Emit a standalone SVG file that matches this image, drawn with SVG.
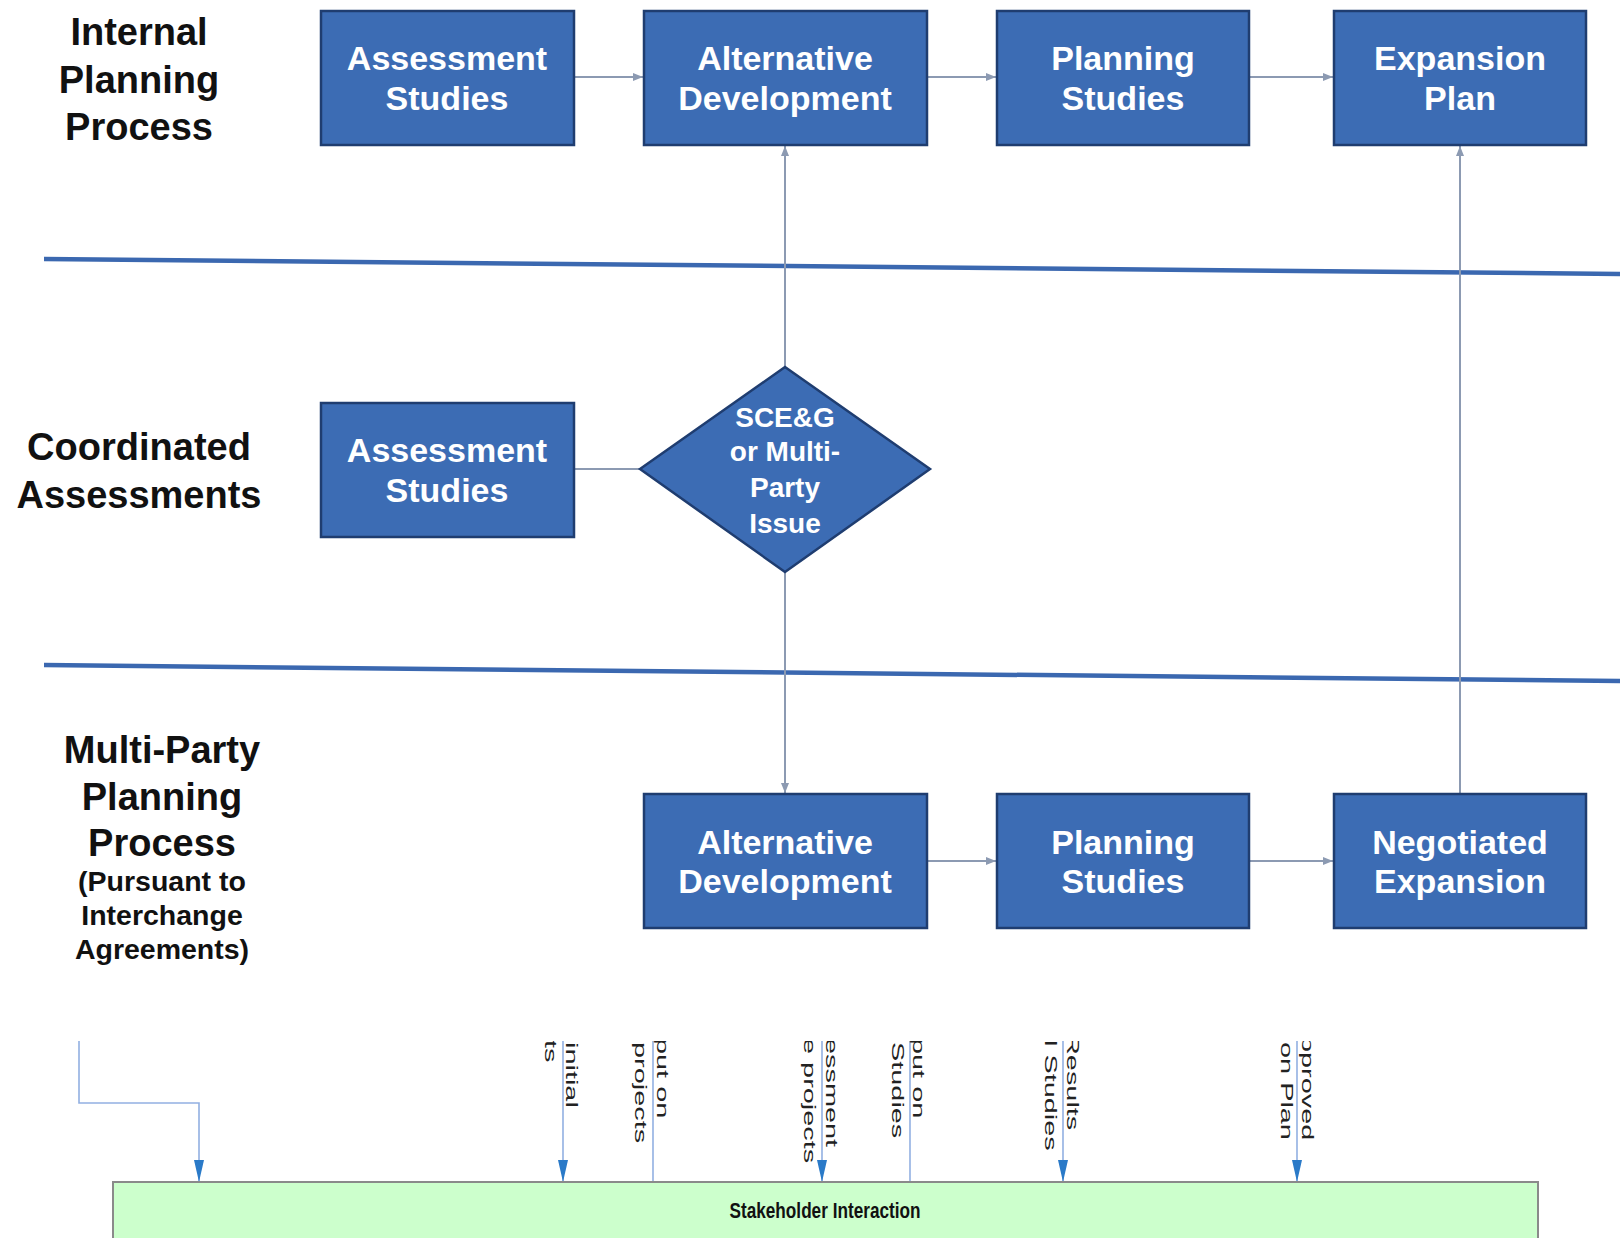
<svg xmlns="http://www.w3.org/2000/svg" width="1620" height="1238" viewBox="0 0 1620 1238">
<style>
.box{fill:#3C6CB4;stroke:#1F3D70;stroke-width:2.5}
.bt{font-family:"Liberation Sans",Arial,sans-serif;font-weight:bold;font-size:34px;fill:#FFFFFF;text-anchor:middle}
.dt{font-family:"Liberation Sans",Arial,sans-serif;font-weight:bold;font-size:28px;fill:#FFFFFF;text-anchor:middle}
.lab{font-family:"Liberation Sans",Arial,sans-serif;font-weight:bold;font-size:38px;fill:#111111;text-anchor:middle}
.lab2{font-family:"Liberation Sans",Arial,sans-serif;font-weight:bold;font-size:28.5px;fill:#111111;text-anchor:middle}
.sep{stroke:#3B68B0;stroke-width:4.5;fill:none}
.con{stroke:#8C9AB2;stroke-width:2;fill:none}
.bcon{stroke:#92B0E2;stroke-width:1.6;fill:none}
.rt{font-family:"Liberation Sans",Arial,sans-serif;font-size:17px;fill:#222222}
.sh{fill:#CCFFCC;stroke:#8A8A8A;stroke-width:2}
.sht{font-family:"Liberation Sans",Arial,sans-serif;font-weight:bold;font-size:22px;fill:#111111;text-anchor:middle}
</style>
<defs>
<marker id="ga" markerUnits="userSpaceOnUse" markerWidth="12" markerHeight="10" refX="10" refY="5" orient="auto">
<path d="M0,1 L10,5 L0,9 Z" fill="#8C9AB2"/>
</marker>
<marker id="ba" markerUnits="userSpaceOnUse" markerWidth="24" markerHeight="12" refX="22" refY="6" orient="auto">
<path d="M0,1 L22,6 L0,11 Z" fill="#2A7AC8"/>
</marker>
<clipPath id="bclip"><rect x="0" y="1041" width="1620" height="200"/></clipPath>
</defs>

<!-- lane labels -->
<g id="label-internal">
<text class="lab" x="139" y="45">Internal</text>
<text class="lab" x="139" y="93">Planning</text>
<text class="lab" x="139" y="140">Process</text>
</g>
<g id="label-coordinated">
<text class="lab" x="139" y="460">Coordinated</text>
<text class="lab" x="139" y="508">Assessments</text>
</g>
<g id="label-multiparty">
<text class="lab" x="162" y="763">Multi-Party</text>
<text class="lab" x="162" y="810">Planning</text>
<text class="lab" x="162" y="856">Process</text>
<text class="lab2" x="162" y="891">(Pursuant to</text>
<text class="lab2" x="162" y="925">Interchange</text>
<text class="lab2" x="162" y="959">Agreements)</text>
</g>

<!-- separators -->
<g id="separators">
<line class="sep" x1="44" y1="259" x2="1620" y2="274"/>
<line class="sep" x1="44" y1="665" x2="1620" y2="681"/>
</g>

<!-- connectors -->
<g id="connectors">
<line class="con" x1="574" y1="77" x2="643" y2="77" marker-end="url(#ga)"/>
<line class="con" x1="927" y1="77" x2="996" y2="77" marker-end="url(#ga)"/>
<line class="con" x1="1249" y1="77" x2="1333" y2="77" marker-end="url(#ga)"/>
<line class="con" x1="785" y1="367" x2="785" y2="146" marker-end="url(#ga)"/>
<line class="con" x1="1460" y1="794" x2="1460" y2="146" marker-end="url(#ga)"/>
<line class="con" x1="574" y1="469" x2="640" y2="469"/>
<line class="con" x1="785" y1="572" x2="785" y2="793" marker-end="url(#ga)"/>
<line class="con" x1="927" y1="861" x2="996" y2="861" marker-end="url(#ga)"/>
<line class="con" x1="1249" y1="861" x2="1333" y2="861" marker-end="url(#ga)"/>
<g clip-path="url(#bclip)">
<polyline class="bcon" points="79,1030 79,1103 199,1103 199,1182" marker-end="url(#ba)"/>
<line class="bcon" x1="563" y1="1030" x2="563" y2="1182" marker-end="url(#ba)"/>
<line class="bcon" x1="653" y1="1030" x2="653" y2="1182"/>
<line class="bcon" x1="822" y1="1030" x2="822" y2="1182" marker-end="url(#ba)"/>
<line class="bcon" x1="910" y1="1030" x2="910" y2="1182"/>
<line class="bcon" x1="1063" y1="1030" x2="1063" y2="1182" marker-end="url(#ba)"/>
<line class="bcon" x1="1297" y1="1030" x2="1297" y2="1182" marker-end="url(#ba)"/>
</g>
</g>

<!-- top row -->
<g id="n-assess-top">
<rect class="box" x="321" y="11" width="253" height="134"/>
<text class="bt" x="447" y="70">Assessment</text>
<text class="bt" x="447" y="110">Studies</text>
</g>
<g id="n-altdev-top">
<rect class="box" x="644" y="11" width="283" height="134"/>
<text class="bt" x="785" y="70">Alternative</text>
<text class="bt" x="785" y="110">Development</text>
</g>
<g id="n-planning-top">
<rect class="box" x="997" y="11" width="252" height="134"/>
<text class="bt" x="1123" y="70">Planning</text>
<text class="bt" x="1123" y="110">Studies</text>
</g>
<g id="n-expansion">
<rect class="box" x="1334" y="11" width="252" height="134"/>
<text class="bt" x="1460" y="70">Expansion</text>
<text class="bt" x="1460" y="110">Plan</text>
</g>

<!-- middle row -->
<g id="n-assess-mid">
<rect class="box" x="321" y="403" width="253" height="134"/>
<text class="bt" x="447" y="462">Assessment</text>
<text class="bt" x="447" y="502">Studies</text>
</g>
<g id="n-diamond">
<polygon class="box" points="785,367 930,469 785,572 640,469"/>
<text class="dt" x="785" y="427">SCE&amp;G</text>
<text class="dt" x="785" y="461">or Multi-</text>
<text class="dt" x="785" y="497">Party</text>
<text class="dt" x="785" y="533">Issue</text>
</g>

<!-- bottom row -->
<g id="n-altdev-bot">
<rect class="box" x="644" y="794" width="283" height="134"/>
<text class="bt" x="785" y="854">Alternative</text>
<text class="bt" x="785" y="893">Development</text>
</g>
<g id="n-planning-bot">
<rect class="box" x="997" y="794" width="252" height="134"/>
<text class="bt" x="1123" y="854">Planning</text>
<text class="bt" x="1123" y="893">Studies</text>
</g>
<g id="n-negotiated">
<rect class="box" x="1334" y="794" width="252" height="134"/>
<text class="bt" x="1460" y="854">Negotiated</text>
<text class="bt" x="1460" y="893">Expansion</text>
</g>

<!-- rotated connector labels -->
<g id="connector-labels" clip-path="url(#bclip)">
<text class="rt" transform="translate(566,1042) rotate(90) scale(1.7,1)">initial</text>
<text class="rt" transform="translate(545,1040) rotate(90) scale(1.7,1)">ts</text>
<text class="rt" transform="translate(657,1038) rotate(90) scale(1.7,1)">put on</text>
<text class="rt" transform="translate(635,1042) rotate(90) scale(1.7,1)">projects</text>
<text class="rt" transform="translate(826,1038) rotate(90) scale(1.7,1)">essment</text>
<text class="rt" transform="translate(804,1038) rotate(90) scale(1.7,1)">e projects</text>
<text class="rt" transform="translate(913,1038) rotate(90) scale(1.7,1)">put on</text>
<text class="rt" transform="translate(892,1042) rotate(90) scale(1.7,1)">Studies</text>
<text class="rt" transform="translate(1067,1034) rotate(90) scale(1.7,1)">Results</text>
<text class="rt" transform="translate(1045,1040) rotate(90) scale(1.7,1)">l Studies</text>
<text class="rt" transform="translate(1302,1036) rotate(90) scale(1.7,1)">pproved</text>
<text class="rt" transform="translate(1281,1042) rotate(90) scale(1.7,1)">on Plan</text>
</g>

<!-- stakeholder bar -->
<g id="n-stakeholder">
<rect class="sh" x="113" y="1182" width="1425" height="70"/>
<text class="sht" x="825" y="1218" textLength="191" lengthAdjust="spacingAndGlyphs">Stakeholder Interaction</text>
</g>
</svg>
